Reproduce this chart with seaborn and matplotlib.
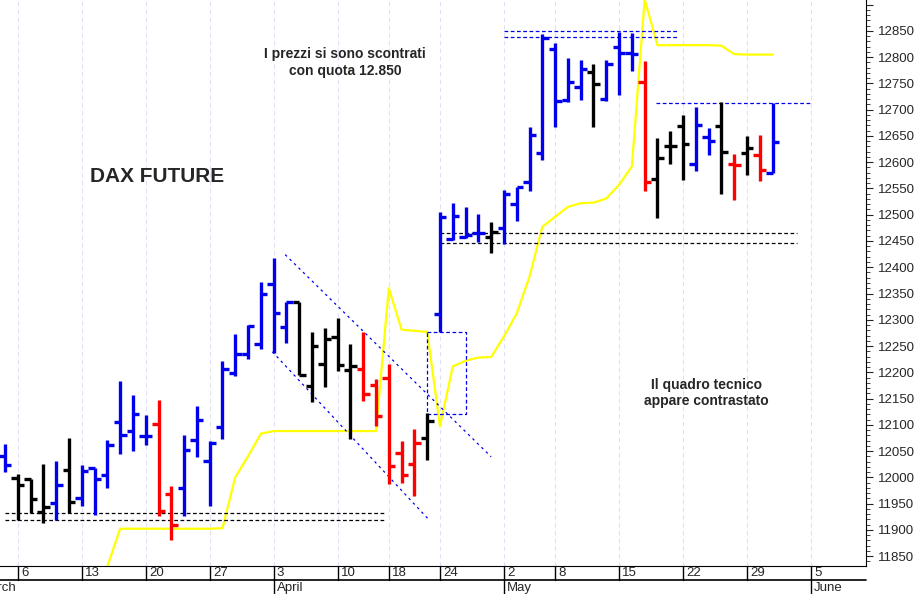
import numpy as np
import pandas as pd
import seaborn as sns
import matplotlib.pyplot as plt
from matplotlib.ticker import MultipleLocator, FuncFormatter
from matplotlib.transforms import blended_transform_factory

# DAX future daily bars, 3 March - 31 May 2017 (trading day index)
opens = [12040, 11999, 11996, 11934, 11951, 12013, 11961, 12018, 12005, 12106,
         12088, 12078, 12101, 11969, 11979, 12071, 12031, 12095, 12199, 12235,
         12254, 12368, 12287, 12333, 12173, 12216, 12268, 12204, 12206, 12176,
         12190, 12047, 12025, 12074, 12311, 12453, 12457, 12465, 12458, 12474,
         12520, 12562, 12617, 12815, 12719, 12744, 12771, 12721, 12819, 12808,
         12752, 12569, 12630, 12669, 12597, 12648, 12669, 12596, 12617, 12614,
         12579]
highs = [12064, 12007, 11996, 12026, 12031, 12075, 12024, 12018, 12071, 12184,
         12156, 12118, 12147, 11984, 12080, 12136, 12069, 12222, 12272, 12290,
         12371, 12417, 12333, 12333, 12276, 12285, 12304, 12253, 12276, 12187,
         12215, 12070, 12092, 12122, 12506, 12523, 12515, 12501, 12486, 12547,
         12553, 12668, 12844, 12827, 12798, 12794, 12787, 12795, 12849, 12846,
         12792, 12647, 12660, 12690, 12706, 12665, 12714, 12615, 12650, 12652,
         12712]
lows = [12010, 11919, 11931, 11913, 11918, 11932, 11946, 11929, 11979, 12045,
        12050, 12061, 11926, 11880, 11926, 12038, 11945, 12072, 12193, 12225,
        12244, 12236, 12256, 12195, 12144, 12171, 12203, 12072, 12146, 12097,
        11988, 11990, 11964, 12033, 12276, 12452, 12455, 12449, 12428, 12444,
        12489, 12546, 12604, 12668, 12714, 12719, 12668, 12717, 12728, 12774,
        12546, 12493, 12597, 12566, 12584, 12614, 12540, 12528, 12576, 12565,
        12579]
closes = [12023, 11985, 11958, 11944, 11986, 11953, 12012, 11996, 12061, 12080,
          12121, 12078, 11936, 11909, 12052, 12110, 12066, 12206, 12234, 12288,
          12350, 12312, 12333, 12195, 12250, 12263, 12214, 12212, 12159, 12117,
          12022, 12004, 12065, 12107, 12496, 12498, 12462, 12465, 12467, 12540,
          12552, 12651, 12836, 12717, 12752, 12778, 12749, 12787, 12808, 12806,
          12562, 12609, 12631, 12634, 12670, 12641, 12619, 12595, 12627, 12585,
          12638]
trend = list("bkkkbkbbbbbbrrbbbbbbbbbkkkkkrrrrrkbbbbkbbbbbbbkbbbrkkkbbkrkrb")

# yellow indicator line (starting at bar 8)
ind_start = 8
indicator = [11830, 11902, 11902, 11902, 11902, 11902, 11902, 11902, 11902, 11903,
             12000, 12040, 12083, 12088, 12088, 12088, 12088, 12088, 12088, 12088,
             12088, 12088, 12360, 12281, 12279, 12277, 12097, 12211, 12222, 12228,
             12229, 12268, 12312, 12382, 12477, 12496, 12515, 12522, 12523, 12531,
             12557, 12592, 12910, 12823, 12823, 12823, 12823, 12823, 12822, 12806,
             12805, 12805, 12805]

tick_pos = [1, 6, 11, 16, 21, 26, 30, 34, 39, 43, 48, 53, 58, 63]
tick_labels = ["6", "13", "20", "27", "3", "10", "18", "24", "2", "8", "15", "22", "29", "5"]
month_pos = [-2.2, 21, 39, 63]
month_labels = ["March", "April", "May", "June"]

sns.set_style("white")
plt.rcParams['font.family'] = ['Liberation Sans', 'DejaVu Sans']

fig = plt.figure(figsize=(9.18, 5.94), dpi=100)
ax = fig.add_axes([0, 28 / 594, 866 / 918, 566 / 594])

cmap = {"b": "#0000ee", "k": "black", "r": "#ff0000"}
idx = np.arange(len(opens))
cols = [cmap[t] for t in trend]
w = 0.5
ax.vlines(idx, lows, highs, colors=cols, lw=2.4, zorder=3)
ax.hlines(opens, idx - w, idx, colors=cols, lw=2.4, zorder=3)
ax.hlines(closes, idx, idx + w, colors=cols, lw=2.4, zorder=3)

df = pd.DataFrame({"x": np.arange(ind_start, ind_start + len(indicator)), "y": indicator})
sns.lineplot(data=df, x="x", y="y", ax=ax, color="#ffff00", lw=1.6, zorder=2)

# support / resistance levels
for y in (11931, 11919):
    ax.hlines(y, 0, 29.8, colors="black", lw=0.9, linestyles=(0, (3, 2)))
for y in (12465, 12447):
    ax.hlines(y, 34, 61.9, colors="black", lw=0.9, linestyles=(0, (3, 2)))
for y in (12850, 12838):
    ax.hlines(y, 39, 52.7, colors="#0000ee", lw=0.9, linestyles=(0, (3, 2)))
ax.hlines(12712, 50.9, 62.9, colors="#0000ee", lw=0.9, linestyles=(0, (3, 2)))

# channel lines
ax.plot([21.9, 38.0], [12424, 12039], color="#0000ee", lw=0.9, ls=(0, (2, 3)))
ax.plot([20.9, 33.1], [12239, 11920], color="#0000ee", lw=0.9, ls=(0, (2, 3)))
ax.plot([33.0, 36.0, 36.0, 33.0, 33.0], [12277, 12277, 12120, 12120, 12277],
        color="#0000ee", lw=0.9, ls=(0, (3, 2)))

ax.text(11.9, 12572, "DAX FUTURE", fontsize=15, fontweight="bold", ha="center", va="center")
ax.text(26.6, 12790, "I prezzi si sono scontrati\ncon quota 12.850", fontsize=10,
        fontweight="bold", ha="center", va="center", linespacing=1.2)
ax.text(54.8, 12160, "Il quadro tecnico\nappare contrastato", fontsize=10,
        fontweight="bold", ha="center", va="center", linespacing=1.2)

ax.set_xlim(-0.39, 67.3)
ax.set_ylim(11831, 12909)
ax.yaxis.tick_right()
ax.yaxis.set_major_locator(MultipleLocator(50))
ax.yaxis.set_major_formatter(FuncFormatter(lambda v, p: "" if v > 12880 else f"{v:.0f}"))
ax.yaxis.set_minor_locator(MultipleLocator(10))
ax.tick_params(axis="y", which="major", direction="out", length=5, labelsize=9.5, right=True)
ax.tick_params(axis="y", which="minor", direction="out", length=3, right=True)
ax.set_xticks(tick_pos)
ax.set_xticklabels([])
ax.tick_params(axis="x", length=0)
for p in tick_pos:
    ax.axvline(p, color="#e0e0f4", lw=0.8, ls=(0, (4, 3)), zorder=0)
for s in ("top", "left"):
    ax.spines[s].set_visible(False)
ax.spines["right"].set_color("black")
ax.spines["bottom"].set_color("black")
ax.set_xlabel("")
ax.set_ylabel("")

# bottom date band
tr = blended_transform_factory(ax.transData, fig.transFigure)
ax.plot([-0.39, 67.3], [14 / 594, 14 / 594], transform=tr, color="black", lw=1.2, clip_on=False)
for p, lab in zip(tick_pos, tick_labels):
    ax.plot([p, p], [14 / 594, 28 / 594], transform=tr, color="black", lw=1, clip_on=False)
    ax.text(p + 0.25, 21 / 594, lab, transform=tr, fontsize=9.5, ha="left", va="center")
for p, lab in zip(month_pos, month_labels):
    if lab != "March":
        ax.plot([p, p], [0, 14 / 594], transform=tr, color="black", lw=1, clip_on=False)
    ax.text(p + 0.25, 6 / 594, lab, transform=tr, fontsize=9.5, ha="left", va="center")

fig.savefig("out.png", dpi=100)
